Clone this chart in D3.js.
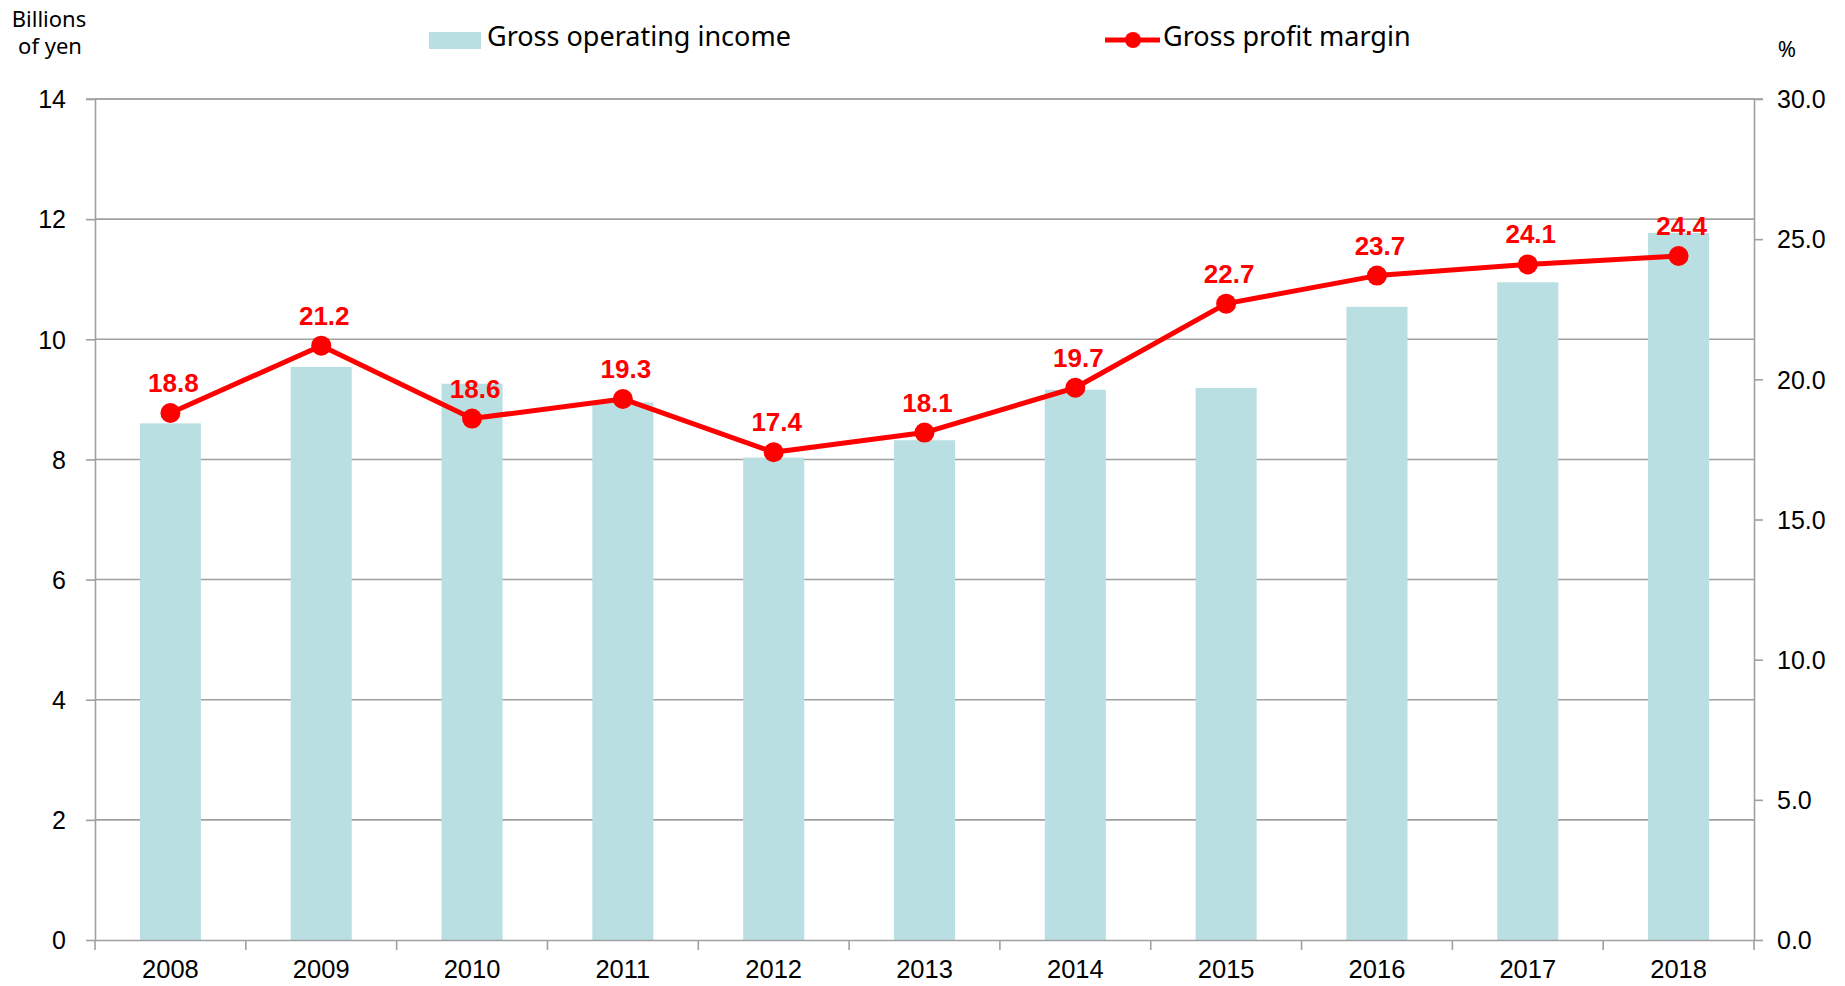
<!DOCTYPE html>
<html>
<head>
<meta charset="utf-8">
<script src="https://cdn.jsdelivr.net/npm/d3@7"></script>
<style>
  html, body { margin: 0; padding: 0; background: #fff; }
  svg { display: block; }
</style>
</head>
<body>
<svg id="chart" width="1845" height="986"></svg>
<script>
const years = ["2008","2009","2010","2011","2012","2013","2014","2015","2016","2017","2018"];
const grossOperatingIncome = [8.60, 9.54, 9.26, 8.95, 8.03, 8.32, 9.16, 9.19, 10.54, 10.95, 11.77];
const grossProfitMargin = [18.8, 21.2, 18.6, 19.3, 17.4, 18.1, 19.7, 22.7, 23.7, 24.1, 24.4];
const leftTicks = [0, 2, 4, 6, 8, 10, 12, 14];
const rightTicks = [0, 5, 10, 15, 20, 25, 30];
const seriesNames = ["Gross operating income", "Gross profit margin"];

const svg = d3.select("#chart");
const m = { left: 95, right: 1754, top: 99, bottom: 940 };
const barColor = "#badfe2";
const lineColor = "#ff0000";
const gridColor = "#a0a0a0";

const x = d3.scaleBand().domain(years).range([m.left, m.right]).paddingInner(0).paddingOuter(0);
const yL = d3.scaleLinear().domain([0, 14]).range([m.bottom, m.top]);
const yR = d3.scaleLinear().domain([0, 30]).range([m.bottom, m.top]);
const barW = x.bandwidth() * 0.405;

// gridlines
svg.append("g").selectAll("line").data(leftTicks.filter(d => d > 0)).join("line")
  .attr("x1", m.left).attr("x2", m.right)
  .attr("y1", d => yL(d)).attr("y2", d => yL(d))
  .attr("stroke", gridColor).attr("stroke-width", 1.6);

// bars
svg.append("g").selectAll("rect").data(years).join("rect")
  .attr("x", (d, i) => x(d) + x.bandwidth() / 2 - barW / 2)
  .attr("y", (d, i) => yL(grossOperatingIncome[i]))
  .attr("width", barW)
  .attr("height", (d, i) => yL(0) - yL(grossOperatingIncome[i]))
  .attr("fill", barColor);

// left axis
const gL = svg.append("g").attr("transform", `translate(${m.left},0)`)
  .call(d3.axisLeft(yL).tickValues(leftTicks).tickSize(9).tickPadding(20).tickFormat(d3.format("d")));
// right axis
const gR = svg.append("g").attr("transform", `translate(${m.right},0)`)
  .call(d3.axisRight(yR).tickValues(rightTicks).tickSize(9).tickPadding(14).tickFormat(d3.format(".1f")));
// bottom axis
const gB = svg.append("g").attr("transform", `translate(0,${m.bottom})`)
  .call(d3.axisBottom(x).tickSize(0).tickPadding(20));
// band boundary ticks
svg.append("g").selectAll("line").data(years.concat(["end"])).join("line")
  .attr("x1", (d, i) => i < years.length ? x(d) : m.right)
  .attr("x2", (d, i) => i < years.length ? x(d) : m.right)
  .attr("y1", m.bottom).attr("y2", m.bottom + 10)
  .attr("stroke", gridColor).attr("stroke-width", 1.6);

[gL, gR, gB].forEach(g => {
  g.selectAll(".domain").attr("stroke", gridColor).attr("stroke-width", 1.6);
  g.selectAll(".tick line").attr("stroke", gridColor).attr("stroke-width", 1.6);
  g.selectAll("text").attr("font-family", "'Liberation Sans', Arial, sans-serif")
    .attr("font-size", 25).attr("fill", "#000");
});
gB.selectAll("text").attr("font-size", 25.5);
gB.select(".domain").attr("d", `M${m.left},0.5H${m.right}`);
gL.select(".domain").attr("d", `M0.5,${m.bottom}V${m.top}`);
gR.select(".domain").attr("d", `M0.5,${m.bottom}V${m.top}`);
gL.selectAll(".tick text").attr("dy", "0.35em");
gR.selectAll(".tick text").attr("dy", "0.35em");
// top border line
svg.append("line").attr("x1", m.left - 9).attr("x2", m.right + 9)
  .attr("y1", yL(14)).attr("y2", yL(14)).attr("stroke", gridColor).attr("stroke-width", 1.6);

// line
const cx = i => x(years[i]) + x.bandwidth() / 2;
const line = d3.line().x((d, i) => cx(i)).y(d => yR(d));
svg.append("path").datum(grossProfitMargin).attr("d", line)
  .attr("fill", "none").attr("stroke", lineColor).attr("stroke-width", 5).attr("stroke-linejoin", "round");
svg.append("g").selectAll("circle").data(grossProfitMargin).join("circle")
  .attr("cx", (d, i) => cx(i)).attr("cy", d => yR(d)).attr("r", 10).attr("fill", lineColor);
svg.append("g").selectAll("text").data(grossProfitMargin).join("text")
  .attr("x", (d, i) => cx(i) + 3).attr("y", d => yR(d) - 21)
  .attr("text-anchor", "middle")
  .attr("font-family", "'Liberation Sans', Arial, sans-serif")
  .attr("font-weight", "bold").attr("font-size", 26).attr("fill", lineColor)
  .text(d => d.toFixed(1));

// axis titles
const tFont = "'Noto Sans', sans-serif";
svg.append("text").attr("x", 49).attr("y", 27).attr("text-anchor", "middle")
  .attr("font-family", tFont).attr("font-size", 22).text("Billions");
svg.append("text").attr("x", 50).attr("y", 54).attr("text-anchor", "middle")
  .attr("font-family", tFont).attr("font-size", 22).text("of yen");
svg.append("text").attr("x", 1787).attr("y", 57).attr("text-anchor", "middle")
  .attr("font-family", tFont).attr("font-size", 22).text("%");

// legend
svg.append("rect").attr("x", 429).attr("y", 32).attr("width", 52).attr("height", 17).attr("fill", barColor);
svg.append("text").attr("x", 487).attr("y", 46).attr("font-family", tFont).attr("font-size", 27)
  .attr("fill", "#000").text(seriesNames[0]);
svg.append("line").attr("x1", 1105).attr("x2", 1160).attr("y1", 40).attr("y2", 40)
  .attr("stroke", lineColor).attr("stroke-width", 5);
svg.append("circle").attr("cx", 1133).attr("cy", 40).attr("r", 8).attr("fill", lineColor);
svg.append("text").attr("x", 1163).attr("y", 46).attr("font-family", tFont).attr("font-size", 27)
  .attr("fill", "#000").text(seriesNames[1]);
</script>
</body>
</html>
